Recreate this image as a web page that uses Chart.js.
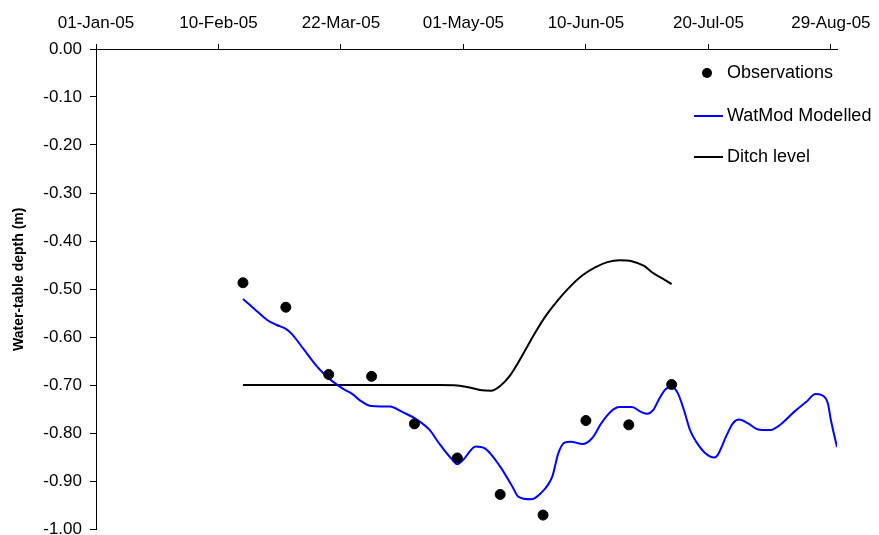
<!DOCTYPE html>
<html>
<head>
<meta charset="utf-8">
<script src="https://cdn.jsdelivr.net/npm/chart.js@4.4.1/dist/chart.umd.min.js"></script>
<style>
  body { margin: 0; background: #fff; }
  canvas { display: block; }
</style>
</head>
<body>
<canvas id="grafico" width="879" height="535"></canvas>
<script>
// x values are days since 01-Jan-05
const tickDays = [0, 40, 80, 120, 160, 200, 240];
const tickLabels = ['01-Jan-05', '10-Feb-05', '22-Mar-05', '01-May-05', '10-Jun-05', '20-Jul-05', '29-Aug-05'];

const obsDays = [48, 62, 76, 90, 104, 118, 132, 146, 160, 174, 188];
const obsDepth = [-0.487, -0.538, -0.678, -0.682, -0.781, -0.852, -0.928, -0.971, -0.774, -0.783, -0.699];

const modelDays = [48, 52, 56, 59, 62, 64, 68, 72, 75, 78, 81, 84, 86, 90, 96, 100, 105, 109, 112, 116,
  118, 120, 124, 127, 132, 136, 138, 142, 145, 149, 151, 153, 155, 159, 162, 165, 168, 171, 175, 178,
  180, 182, 184, 186, 188, 190, 192, 194, 196, 199, 202, 203, 206, 208, 210, 213, 216, 220, 223, 228,
  232, 235, 237, 239, 240, 242];
const modelDepth = [-0.521, -0.543, -0.565, -0.575, -0.583, -0.594, -0.627, -0.660, -0.680, -0.696,
  -0.709, -0.720, -0.731, -0.744, -0.745, -0.756, -0.773, -0.794, -0.821, -0.853,
  -0.865, -0.855, -0.828, -0.832, -0.870, -0.912, -0.933, -0.938, -0.927, -0.891,
  -0.842, -0.820, -0.818, -0.823, -0.811, -0.780, -0.756, -0.746, -0.746, -0.756,
  -0.760, -0.752, -0.728, -0.709, -0.703, -0.717, -0.752, -0.794, -0.818, -0.842,
  -0.851, -0.846, -0.804, -0.780, -0.772, -0.780, -0.792, -0.794, -0.785, -0.756,
  -0.735, -0.719, -0.721, -0.738, -0.773, -0.829];

const ditchDays = [48, 80, 112, 118, 122, 126, 129, 132, 135, 138, 141, 144, 147, 151, 155, 159, 163,
  167, 171, 175, 179, 182, 186, 188];
const ditchDepth = [-0.700, -0.700, -0.700, -0.701, -0.705, -0.711, -0.712, -0.702, -0.682, -0.652,
  -0.618, -0.585, -0.555, -0.522, -0.494, -0.471, -0.455, -0.444, -0.440, -0.442, -0.452, -0.467,
  -0.482, -0.490];

const pontos = (xs, ys) => xs.map((x, i) => ({ x: x, y: ys[i] }));

// legenda desenhada à mão, dentro da área do gráfico
const legendaPlugin = {
  id: 'legenda',
  afterDraw(chart) {
    const ctx = chart.ctx;
    const rows = [73, 116, 157];
    ctx.save();
    ctx.font = '18px "Liberation Sans", Arial, sans-serif';
    ctx.textBaseline = 'middle';
    chart.data.datasets.forEach((ds, i) => {
      const y = rows[i];
      if (ds.showLine) {
        ctx.strokeStyle = ds.borderColor;
        ctx.lineWidth = ds.borderWidth;
        ctx.beginPath();
        ctx.moveTo(694, y);
        ctx.lineTo(723, y);
        ctx.stroke();
      } else {
        ctx.beginPath();
        ctx.arc(707, y, ds.pointRadius, 0, Math.PI * 2);
        ctx.fillStyle = ds.backgroundColor;
        ctx.fill();
      }
      ctx.fillStyle = '#000';
      ctx.fillText(ds.label, 727, y);
    });
    ctx.restore();
  }
};

const ctx = document.getElementById('grafico').getContext('2d');
new Chart(ctx, {
  type: 'scatter',
  data: {
    datasets: [{
      label: 'Observations',
      data: pontos(obsDays, obsDepth),
      backgroundColor: '#000',
      borderColor: '#000',
      pointRadius: 5,
      showLine: false
    }, {
      label: 'WatMod Modelled',
      data: pontos(modelDays, modelDepth),
      borderColor: '#0000ff',
      borderWidth: 2,
      pointRadius: 0,
      showLine: true,
      cubicInterpolationMode: 'monotone'
    }, {
      label: 'Ditch level',
      data: pontos(ditchDays, ditchDepth),
      borderColor: '#000',
      borderWidth: 2,
      pointRadius: 0,
      showLine: true,
      cubicInterpolationMode: 'monotone'
    }]
  },
  options: {
    responsive: false,
    animation: false,
    layout: { padding: { left: 0, right: 42, top: 0, bottom: 6 } },
    plugins: {
      legend: { display: false },
      tooltip: { enabled: false }
    },
    scales: {
      x: {
        type: 'linear',
        position: 'top',
        min: 0,
        max: 242,
        afterBuildTicks: (scale) => { scale.ticks = tickDays.map(v => ({ value: v })); },
        afterFit: (scale) => { scale.height = 49; scale.paddingLeft = 0; scale.paddingRight = 0; },
        grid: { drawOnChartArea: false, color: '#000', tickLength: 5, tickColor: '#000' },
        border: { color: '#000', width: 1 },
        ticks: {
          color: '#000',
          padding: 10,
          maxRotation: 0,
          autoSkip: false,
          font: { family: '"Liberation Sans", Arial, sans-serif', size: 17 },
          callback: (v, i) => tickLabels[i]
        }
      },
      y: {
        min: -1,
        max: 0,
        afterFit: (scale) => { scale.width = 96; scale.paddingTop = 0; scale.paddingBottom = 0; },
        grid: { drawOnChartArea: false, color: '#000', tickLength: 6, tickColor: '#000' },
        border: { color: '#000', width: 1 },
        ticks: {
          stepSize: 0.1,
          color: '#000',
          padding: 8,
          font: { family: '"Liberation Sans", Arial, sans-serif', size: 17 },
          callback: (v) => v.toFixed(2)
        },
        title: {
          display: true,
          text: '     Water-table depth (m)',
          color: '#000',
          padding: { top: 11, bottom: 0 },
          font: { family: '"Liberation Sans", Arial, sans-serif', size: 14, weight: 'bold' }
        }
      }
    }
  },
  plugins: [legendaPlugin]
});
</script>
</body>
</html>
